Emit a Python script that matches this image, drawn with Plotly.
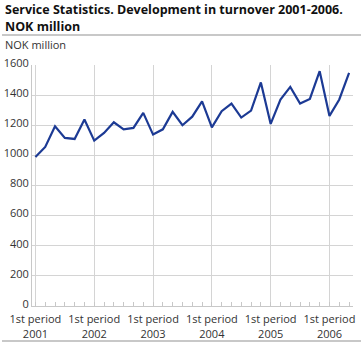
import plotly.graph_objects as go

years = ["2001", "2002", "2003", "2004", "2005", "2006"]
periods_per_year = 6
turnover = [
    989, 1056, 1193, 1116, 1109, 1238,
    1098, 1149, 1220, 1173, 1182, 1282,
    1138, 1173, 1289, 1200, 1257, 1359,
    1186, 1293, 1344, 1251, 1297, 1484,
    1209, 1371, 1455, 1344, 1375, 1559,
    1262, 1371, 1548,
]
y_ticks = [0, 200, 400, 600, 800, 1000, 1200, 1400, 1600]

W, H = 363, 344
ML, MR, MT, MB = 32, 10, 65, 38
pw = W - ML - MR
ph = H - MT - MB

x = list(range(len(turnover)))
tickvals = [i * periods_per_year for i in range(len(years))]
ticktext = ["1st period<br>" + y for y in years]
xrange_ = [-0.35, len(turnover) - 0.6]

fig = go.Figure()
fig.add_trace(go.Scatter(x=x, y=turnover, mode="lines",
                         line=dict(color="#1c3a94", width=2.2), hoverinfo="skip"))
# invisible trace on the overlay axis used for per-period tick marks
fig.add_trace(go.Scatter(x=[x[0]], y=[turnover[0]], xaxis="x2", mode="markers",
                         marker=dict(opacity=0), hoverinfo="skip"))

font = "Open Sans, DejaVu Sans, sans-serif"
fig.update_layout(
    width=W, height=H,
    margin=dict(l=ML, r=MR, t=MT, b=MB, autoexpand=False),
    paper_bgcolor="white", plot_bgcolor="white",
    showlegend=False,
    font=dict(family=font, size=11, color="#333333"),
    xaxis=dict(range=xrange_, tickvals=tickvals, ticktext=ticktext,
               showgrid=True, gridcolor="#d4d4d4", gridwidth=1,
               showline=True, linecolor="#c8c8c8", linewidth=1,
               ticks="", ticklabelstandoff=3, automargin=False,
               tickfont=dict(size=11, color="#333333"),
               zeroline=False, fixedrange=True),
    xaxis2=dict(range=xrange_, overlaying="x", side="bottom", anchor="y",
                tickvals=x, ticks="inside", ticklen=4, tickcolor="#c8c8c8",
                showticklabels=False, showgrid=False, showline=False, zeroline=False,
                automargin=False, fixedrange=True),
    yaxis=dict(range=[0, 1600], tickvals=y_ticks,
               showgrid=True, gridcolor="#d4d4d4", gridwidth=1,
               showline=True, linecolor="#c8c8c8", linewidth=1,
               ticks="", ticklabelshift=-2, automargin=False,
               tickfont=dict(size=11, color="#333333"),
               zeroline=False, fixedrange=True),
)

def px_x(p):
    return (p - ML) / pw

def px_y(p):
    return 1 - (p - MT) / ph

fig.add_annotation(xref="paper", yref="paper", x=px_x(3), y=px_y(-1), xanchor="left", yanchor="top",
                   text="<b>Service Statistics. Development in turnover 2001-2006.</b>",
                   showarrow=False, align="left", font=dict(size=12.5, color="#111111", family=font))
fig.add_annotation(xref="paper", yref="paper", x=px_x(3), y=px_y(16), xanchor="left", yanchor="top",
                   text="<b>NOK million</b>",
                   showarrow=False, align="left", font=dict(size=12.5, color="#111111", family=font))
fig.add_annotation(xref="paper", yref="paper", x=px_x(3), y=px_y(35), xanchor="left", yanchor="top",
                   text="NOK million", showarrow=False, align="left",
                   font=dict(size=11, color="#333333", family=font))
fig.add_shape(type="line", xref="paper", yref="paper", x0=px_x(2), x1=px_x(361), y0=px_y(35), y1=px_y(35),
              line=dict(color="#c8c8c8", width=2))
fig.add_shape(type="line", xref="paper", yref="paper", x0=px_x(2), x1=px_x(361), y0=px_y(341), y1=px_y(341),
              line=dict(color="#c8c8c8", width=2))

fig.write_html("out.html")
